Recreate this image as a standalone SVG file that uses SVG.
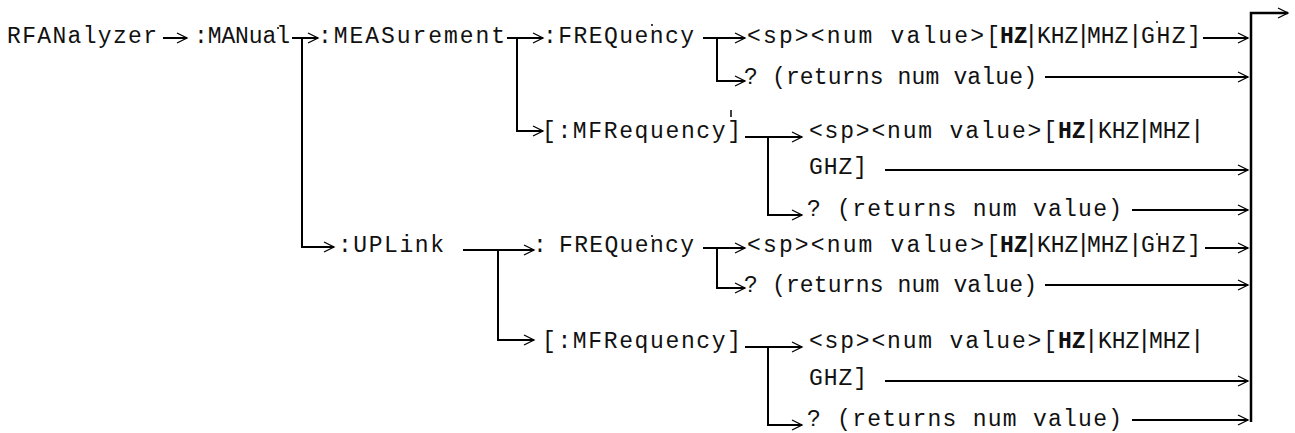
<svg xmlns="http://www.w3.org/2000/svg" width="1295" height="433" viewBox="0 0 1295 433">
<style>
text{font-family:"Liberation Mono","Courier New",monospace;font-size:23px;fill:#111}
.b{font-weight:bold}
.p{font-family:"Liberation Sans",Arial,sans-serif;font-size:25px}
.c{fill:none;stroke:#000;stroke-width:2;marker-end:url(#ah)}
.bus{fill:none;stroke:#000;stroke-width:2.5;marker-end:url(#ah)}
.tick{stroke:#000;stroke-width:1.5}
</style>
<defs>
<marker id="ah" markerUnits="userSpaceOnUse" markerWidth="14" markerHeight="14" refX="10" refY="5" orient="auto" overflow="visible">
<path d="M0,0 L10,5 L0,10" fill="none" stroke="#000" stroke-width="1.3"/>
</marker>
</defs>
<rect width="1295" height="433" fill="#fff"/>
<g id="connectors">
<path class="c" d="M163,38 H187"/>
<path class="c" d="M292,38 H318"/>
<path class="c" d="M302,38 V247 H334"/>
<path class="c" d="M507,38 H543"/>
<path class="c" d="M517,38 V131 H543"/>
<path class="c" d="M703,38 H745"/>
<path class="c" d="M717,38 V81 H745"/>
<path class="c" d="M1203,38 H1248"/>
<path class="c" d="M1045,77 H1248"/>
<path class="c" d="M745,137 H802"/>
<path class="c" d="M768,137 V215 H802"/>
<path class="c" d="M885,170 H1248"/>
<path class="c" d="M1132,210 H1248"/>
<path class="c" d="M463,250 H534"/>
<path class="c" d="M498,250 V340 H534"/>
<path class="c" d="M703,248 H745"/>
<path class="c" d="M717,248 V288 H745"/>
<path class="c" d="M1205,248 H1248"/>
<path class="c" d="M1045,285 H1248"/>
<path class="c" d="M745,347 H802"/>
<path class="c" d="M768,347 V425 H802"/>
<path class="c" d="M885,381 H1248"/>
<path class="c" d="M1132,420 H1248"/>
<path class="bus" d="M1251,422 V13 H1288"/>
</g>
<g id="marks">
<line class="tick" x1="731" y1="110" x2="731" y2="117"/>
<circle cx="278" cy="28" r="1"/>
<circle cx="652" cy="25" r="1"/>
<circle cx="652" cy="236" r="1"/>
<circle cx="1157" cy="22" r="1"/>
<circle cx="1157" cy="234" r="1"/>
</g>
<g id="n-rfanalyzer"><text x="7" y="43" textLength="150">RFANalyzer</text></g>
<g id="n-manual"><text x="194" y="43" textLength="96">:MANual</text></g>
<g id="n-measurement"><text x="318" y="43" textLength="187">:MEASurement</text></g>
<g id="n-meas-frequency"><text x="543" y="43" textLength="151">:FREQuency</text></g>
<g id="n-meas-freq-value"><text y="43"><tspan x="747" textLength="253">&lt;sp&gt;&lt;num value&gt;[</tspan><tspan x="1000" class="b">HZ</tspan><tspan x="1028" class="p">|</tspan><tspan x="1037">KHZ</tspan><tspan x="1080" class="p">|</tspan><tspan x="1087">MHZ</tspan><tspan x="1132" class="p">|</tspan><tspan x="1141" textLength="60">GHZ]</tspan></text></g>
<g id="n-meas-freq-query"><text x="744" y="84" textLength="293">? (returns num value)</text></g>
<g id="n-meas-mfrequency"><text x="542" y="138" textLength="199">[:MFRequency]</text></g>
<g id="n-meas-mf-value"><text y="138"><tspan x="809" textLength="248">&lt;sp&gt;&lt;num value&gt;[</tspan><tspan x="1058" class="b">HZ</tspan><tspan x="1088" class="p">|</tspan><tspan x="1098">KHZ</tspan><tspan x="1141" class="p">|</tspan><tspan x="1149">MHZ</tspan><tspan x="1194" class="p">|</tspan></text><text x="809" y="174" textLength="58">GHZ]</text></g>
<g id="n-meas-mf-query"><text x="807" y="216" textLength="315">? (returns num value)</text></g>
<g id="n-uplink"><text x="338" y="252" textLength="106">:UPLink</text></g>
<g id="n-up-frequency"><text y="252"><tspan x="533">:</tspan><tspan x="559" textLength="135">FREQuency</tspan></text></g>
<g id="n-up-freq-value"><text y="252"><tspan x="747" textLength="253">&lt;sp&gt;&lt;num value&gt;[</tspan><tspan x="1000" class="b">HZ</tspan><tspan x="1028" class="p">|</tspan><tspan x="1037">KHZ</tspan><tspan x="1080" class="p">|</tspan><tspan x="1087">MHZ</tspan><tspan x="1132" class="p">|</tspan><tspan x="1141" textLength="60">GHZ]</tspan></text></g>
<g id="n-up-freq-query"><text x="744" y="292" textLength="293">? (returns num value)</text></g>
<g id="n-up-mfrequency"><text x="542" y="348" textLength="199">[:MFRequency]</text></g>
<g id="n-up-mf-value"><text y="348"><tspan x="809" textLength="248">&lt;sp&gt;&lt;num value&gt;[</tspan><tspan x="1058" class="b">HZ</tspan><tspan x="1088" class="p">|</tspan><tspan x="1098">KHZ</tspan><tspan x="1141" class="p">|</tspan><tspan x="1149">MHZ</tspan><tspan x="1194" class="p">|</tspan></text><text x="809" y="385" textLength="58">GHZ]</text></g>
<g id="n-up-mf-query"><text x="807" y="426" textLength="315">? (returns num value)</text></g>
</svg>
